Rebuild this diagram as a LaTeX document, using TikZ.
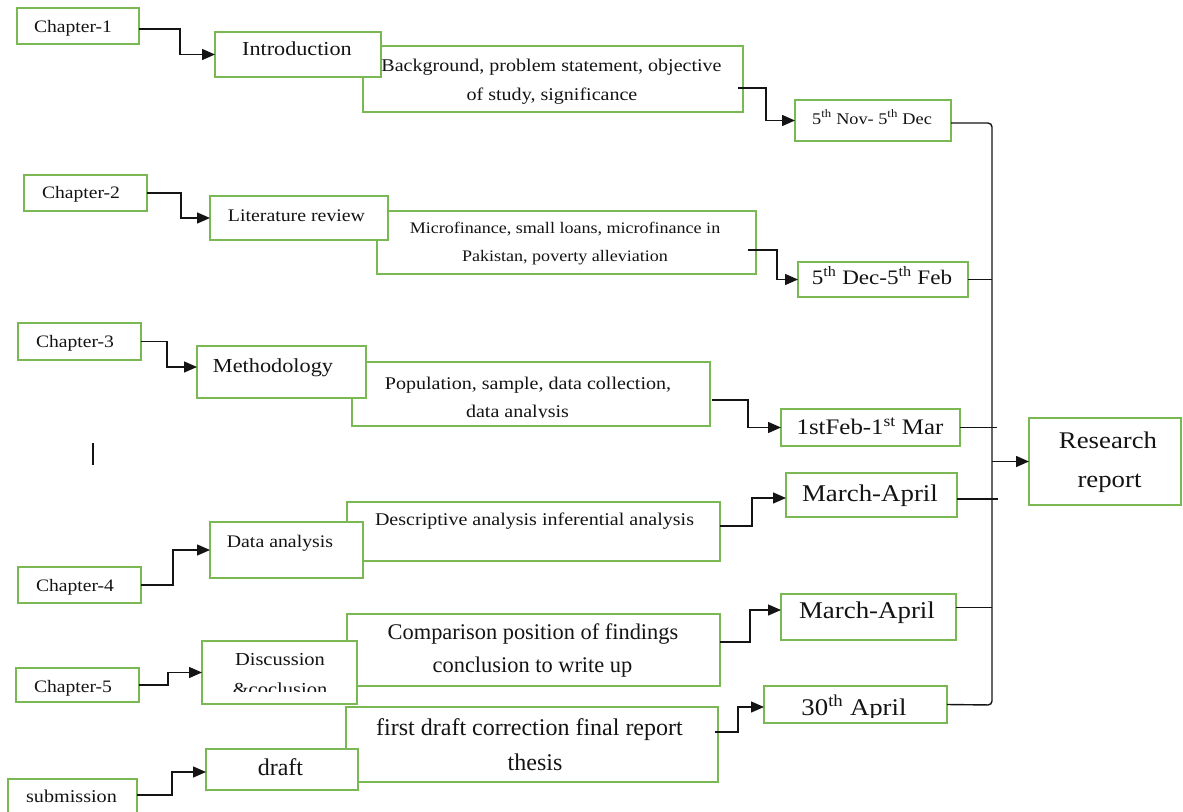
\documentclass[tikz,border=0pt]{standalone}
\usepackage{fontspec}
\setmainfont{Liberation Serif}
\newfontfamily\cam[FakeStretch=1.12]{Liberation Serif}
\usetikzlibrary{arrows.meta}
\definecolor{boxgreen}{RGB}{122,184,84}
\definecolor{ink}{RGB}{20,20,20}
\newcommand\fs[1]{\fontsize{#1}{#1}\selectfont}
\newcommand\mybox[5]{%
  \pgfmathsetmacro\bw{#4-#2}\pgfmathsetmacro\bh{#5-#3}%
  \node[box, minimum width=\bw pt, minimum height=\bh pt] (#1) at (#2,#3) {};}
\begin{document}
\begin{tikzpicture}[x=1pt,y=-1pt,
  box/.style={draw=boxgreen, line width=1.4pt, fill=white, anchor=north west, inner sep=0pt, outer sep=0pt},
  conn/.style={draw=ink, line width=1.4pt},
  arr/.style={conn, -{Triangle[length=13pt,width=11pt]}},
  txt/.style={anchor=base, inner sep=0pt, text=ink},
  cm/.style={txt, font={\cam\fs{#1}}},
  tm/.style={txt, font={\fs{#1}}}]
\useasboundingbox (0,0) rectangle (1183,811);

% ---------- Row 1 ----------
\mybox{bg}{363}{46}{743}{112}
\mybox{c1}{17}{8}{139}{44}
\mybox{intro}{215}{32}{381}{77}
\mybox{nov}{795}{100}{951}{141}
\node[cm=17.5] (c1t) at (73,32) {Chapter-1};
\node[cm=19.8] (introt) at (297,55) {Introduction};
\node[cm=17.9] (bg1) at (551.5,71) {Background, problem statement, objective};
\node[cm=17.9] (bg2) at (552,100) {of study, significance};
\node[cm=16.3] (novt) at (872,124) {5\textsuperscript{th} Nov- 5\textsuperscript{th} Dec};
\draw[arr] ([shift={(0,3)}]c1.east) -- ++(41,0) |- (intro.west);
\draw[arr] ([shift={(-5,9)}]bg.east) -- ++(28,0) |- (nov.west);

% ---------- Row 2 ----------
\mybox{mf}{377}{211}{756}{274}
\mybox{c2}{24}{175}{147}{211}
\mybox{lit}{210}{196}{388}{240}
\mybox{dec}{798}{262}{968}{297}
\node[cm=17.5] (c2t) at (81,198) {Chapter-2};
\node[cm=17.7] (litt) at (296.5,221) {Literature review};
\node[cm=16.1] (mf1) at (565,233) {Microfinance, small loans, microfinance in};
\node[cm=16.1] (mf2) at (565,261) {Pakistan, poverty alleviation};
\node[cm=20.6] (dect) at (882,284) {5\textsuperscript{th} Dec-5\textsuperscript{th} Feb};
\draw[arr] (c2.east) -- ++(34,0) |- (lit.west);
\draw[arr] ([shift={(-8,7.5)}]mf.east) -- ++(29,0) |- (dec.west);

% ---------- Row 3 ----------
\mybox{pop}{352}{362}{710}{426}
\mybox{c3}{18}{323}{141}{360}
\mybox{meth}{197}{346}{366}{398}
\mybox{feb}{781}{409}{960}{446}
\node[cm=17.5] (c3t) at (75,347) {Chapter-3};
\node[cm=19.9] (metht) at (273,372) {Methodology};
\node[cm=17.9] (pop1) at (528,389) {Population, sample, data collection,};
\begin{scope}
  \clip (353,363) rectangle (709,417.5);
  \node[cm=17.9] (pop2) at (517.5,417) {data analysis};
\end{scope}
\node[cm=22.2] (febt) at (870,434) {1stFeb-1\textsuperscript{st} Mar};
\draw[arr] (c3.east) -- ++(26,0) |- ([shift={(0,-5)}]meth.west);
\draw[arr] ([shift={(2,6)}]pop.east) -- ++(36,0) |- (feb.west);

\draw[conn, line width=1.5pt] (93,443) coordinate (barA) -- (93,465) coordinate (barB);

% ---------- Row 4 ----------
\mybox{desc}{347}{502}{720}{561}
\mybox{c4}{18}{567}{141}{603}
\mybox{da}{210}{522}{363}{578}
\mybox{ma1}{786}{473}{957}{517}
\node[cm=17.5] (c4t) at (75,591) {Chapter-4};
\node[cm=17.7] (dat) at (280,547) {Data analysis};
\node[cm=17.9] (desct) at (534.5,525) {Descriptive analysis inferential analysis};
\node[cm=24] (ma1t) at (870,501) {March-April};
\draw[arr] (c4.east) -- ++(32,0) |- (da.west);
\draw[arr] ([shift={(0,-5.5)}]desc.east) -- ++(32,0) |- ([shift={(0,3)}]ma1.west);

% ---------- Row 5 ----------
\mybox{cmp}{347}{614}{720}{686}
\mybox{c5}{16}{668}{139}{702}
\mybox{disc}{202}{641}{357}{704}
\mybox{ma2}{781}{594}{956}{640}
\node[cm=17.5] (c5t) at (73,692) {Chapter-5};
\node[cm=18.3] (disc1) at (280,665) {Discussion};
\begin{scope}
  \clip (203,642) rectangle (356,691);
  \node[cm=18.3] (disc2) at (280,695.5) {\&coclusion};
\end{scope}
\node[tm=22.4] (cmp1) at (533,639) {Comparison position of findings};
\node[tm=22.4] (cmp2) at (532.5,672) {conclusion to write up};
\node[cm=24] (ma2t) at (867,618) {March-April};
\draw[arr] (c5.east) -- ++(29,0) |- (disc.west);
\draw[arr] ([shift={(0,-8)}]cmp.east) -- ++(30,0) |- ([shift={(0,-7)}]ma2.west);

% ---------- Row 6 ----------
\mybox{fd}{346}{707}{718}{782}
\mybox{sub}{8}{779}{137}{830}
\mybox{drf}{206}{749}{358}{790}
\mybox{apr}{764}{686}{947}{723}
\node[cm=18] (subt) at (71.5,802) {submission};
\node[tm=24] (drft) at (280.5,775) {draft};
\node[tm=24] (fd1) at (529.5,735) {first draft correction final report};
\node[tm=24] (fd2) at (535,770) {thesis};
\begin{scope}
  \clip (765,687) rectangle (946,717);
  \node[cm=23.9] (aprt) at (854,715.5) {30\textsuperscript{th} April};
\end{scope}
\draw[arr] ([shift={(0,-9.5)}]sub.east) -- ++(35,0) |- ([shift={(0,2.5)}]drf.west);
\draw[arr] ([shift={(-3,-12.5)}]fd.east) -- ++(23,0) |- ([shift={(0,2.5)}]apr.west);

% ---------- Research report and bus ----------
\mybox{rr}{1029}{418}{1181}{505}
\node[cm=23.9] (rr1) at (1108,448) {Research};
\node[cm=23.9] (rr2) at (1109.5,487) {report};
\coordinate (busbot) at (992,705);
\draw[conn, rounded corners=4pt] ([shift={(0,2.5)}]nov.east) -| (busbot) -- (apr.east);
\draw[conn] (dec.east) -- (dec.east -| busbot);
\draw[conn] (feb.east) -- ++(37,0);
\draw[conn] ([shift={(0,4)}]ma1.east) -- ++(41,0);
\draw[conn] ([shift={(0,-9.5)}]ma2.east) -- ([shift={(0,-9.5)}]ma2.east -| busbot);
\draw[arr] (rr.west -| busbot) -- (rr.west);
\end{tikzpicture}
\end{document}
